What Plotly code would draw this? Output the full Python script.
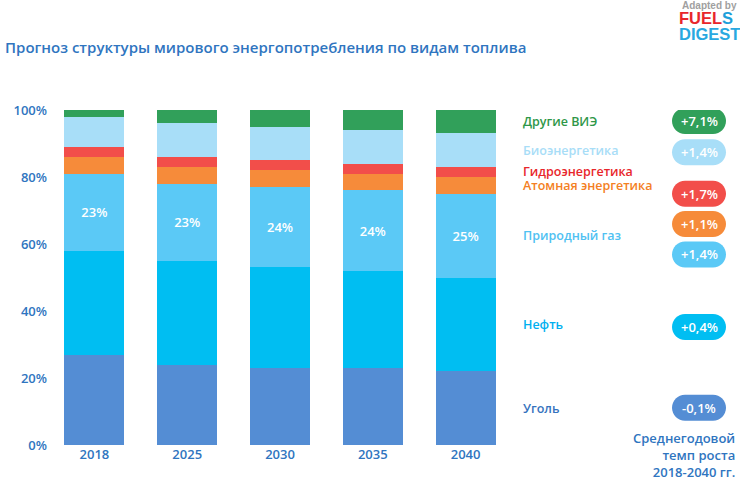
import plotly.graph_objects as go

W, H = 740, 480
ML, MR, MT, MB = 48, 228, 110, 35

BLUE_TEXT = "#2F75C0"
FONT = "Open Sans"

years = ["2018", "2025", "2030", "2035", "2040"]

# shares of world energy consumption, %
coal = [27, 24, 23, 23, 22]
oil = [31, 31, 30, 29, 28]
gas = [23, 23, 24, 24, 25]
nuclear = [5, 5, 5, 5, 5]
hydro = [3, 3, 3, 3, 3]
bio = [9, 10, 10, 10, 10]
other = [2, 4, 5, 6, 7]

y_ticks = [0, 20, 40, 60, 80, 100]
y_labels = ["0%", "20%", "40%", "60%", "80%", "100%"]

names = ["Уголь", "Нефть", "Природный газ", "Атомная энергетика",
         "Гидроэнергетика", "Биоэнергетика", "Другие ВИЭ"]
growth = ["-0,1%", "+0,4%", "+1,4%", "+1,1%", "+1,7%", "+1,4%", "+7,1%"]

bar_colors = ["#548DD4", "#00BEF2", "#5BC9F6", "#F68B3A", "#F24E4A", "#A8DEF8", "#31A05A"]
label_colors = ["#3573BE", "#00B0F0", "#4FC1F2", "#F47F24", "#E8262B", "#A8DDF7", "#2E9748"]

# vertical position of the growth pills (in % units of the y axis)
pill_y = [11.1, 35.2, 56.9, 66.0, 75.0, 87.4, 96.7]


def px2x(px):
    return (px - ML) / (W - ML - MR)


def px2y(py):
    return (H - MB - py) / (H - MT - MB)


series = [coal, oil, gas, nuclear, hydro, bio, other]

fig = go.Figure()
for i, vals in enumerate(series):
    kw = {}
    if i == 2:
        kw = dict(text=[f"{v}%" for v in vals], textposition="inside",
                  insidetextanchor="middle", textangle=0,
                  textfont=dict(color="white", size=13, family=FONT, weight=600))
    fig.add_trace(go.Bar(x=years, y=vals, name=names[i], marker_color=bar_colors[i],
                         marker_line_width=0, **kw))

# legend labels next to the 2040 bar segments
base = 0
for i, vals in enumerate(series):
    mid = base + vals[-1] / 2
    base += vals[-1]
    fig.add_annotation(x=px2x(521), xref="paper", y=mid, yref="y", text=names[i],
                       showarrow=False, xanchor="left", yanchor="middle",
                       font=dict(color=label_colors[i], size=12.5, family=FONT, weight=600))

# growth-rate pills
pw, ph = 54, 26
r = ph / 2
k = 0.5523 * r
hx = pw / 2 - r
pill_path = (f"M {-hx},{-r} L {hx},{-r} "
             f"C {hx + k},{-r} {hx + r},{-k} {hx + r},0 "
             f"C {hx + r},{k} {hx + k},{r} {hx},{r} "
             f"L {-hx},{r} "
             f"C {-hx - k},{r} {-hx - r},{k} {-hx - r},0 "
             f"C {-hx - r},{-k} {-hx - k},{-r} {-hx},{-r} Z")
for i, g in enumerate(growth):
    fig.add_shape(type="path", path=pill_path, xref="paper", yref="y",
                  xsizemode="pixel", ysizemode="pixel",
                  xanchor=px2x(699), yanchor=pill_y[i],
                  fillcolor=bar_colors[i], line_width=0, layer="above")
    fig.add_annotation(x=px2x(699), xref="paper", y=pill_y[i], yref="y", text=g,
                       showarrow=False, xanchor="center", yanchor="middle",
                       font=dict(color="white", size=13, family=FONT, weight=600))

# footnote
fig.add_annotation(x=px2x(737), xref="paper", y=px2y(455), yref="paper",
                   text="Среднегодовой<br>темп роста<br>2018-2040 гг.",
                   showarrow=False, xanchor="right", yanchor="middle", align="right",
                   font=dict(color=BLUE_TEXT, size=13, family=FONT, weight=600))

# title
fig.add_annotation(x=px2x(3), xref="paper", y=px2y(47), yref="paper",
                   text="Прогноз структуры мирового энергопотребления по видам топлива",
                   showarrow=False, xanchor="left", yanchor="middle",
                   font=dict(color=BLUE_TEXT, size=15, family=FONT, weight=600))

# logo
fig.add_annotation(x=px2x(739), xref="paper", y=px2y(5), yref="paper",
                   text="Adapted by", showarrow=False, xanchor="right", yanchor="middle",
                   font=dict(color="#A0A0A0", size=10, family="Liberation Sans", weight="bold"))
fig.add_annotation(x=px2x(677), xref="paper", y=px2y(18), yref="paper",
                   text="FUEL<span style='color:#1E9FDA'>S</span>", showarrow=False,
                   xanchor="left", yanchor="middle",
                   font=dict(color="#E8262B", size=16.5, family="Liberation Sans", weight="bold"))
fig.add_annotation(x=px2x(677), xref="paper", y=px2y(34), yref="paper",
                   text="DIGEST", showarrow=False, xanchor="left", yanchor="middle",
                   font=dict(color="#29A8E0", size=16.5, family="Liberation Sans", weight="bold"))

fig.update_layout(
    barmode="stack",
    bargap=0.355,
    width=W, height=H,
    margin=dict(l=ML, r=MR, t=MT, b=MB),
    paper_bgcolor="white",
    plot_bgcolor="white",
    showlegend=False,
    font=dict(family=FONT),
)
fig.update_xaxes(showgrid=False, zeroline=False, showline=False, ticks="", automargin=False,
                 tickfont=dict(color=BLUE_TEXT, size=13, family=FONT, weight=600))
fig.update_yaxes(range=[0, 100], tickvals=y_ticks, ticktext=y_labels, automargin=False,
                 showgrid=False, zeroline=False, showline=False, ticks="",
                 tickfont=dict(color=BLUE_TEXT, size=13, family=FONT, weight=600))

# drop the browser's default 8px body margin so the figure sits at the page corner
fig.write_html("out.html", config={"displayModeBar": False},
               post_script="document.body.style.margin = '0';")
